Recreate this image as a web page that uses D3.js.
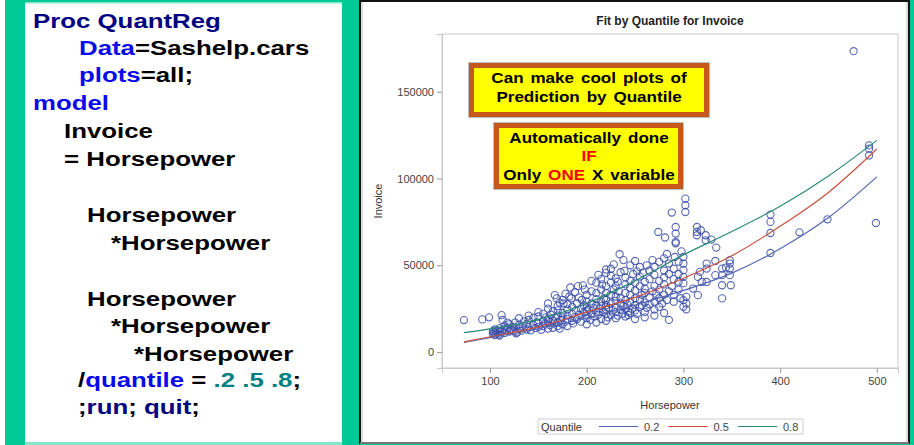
<!DOCTYPE html>
<html><head><meta charset="utf-8">
<script src="https://cdn.jsdelivr.net/npm/d3@7"></script>
<style>html,body{margin:0;padding:0;background:#fff;overflow:hidden}svg{display:block}</style>
</head><body><div id="chart"></div>
<script>
// ---------------- DATA ----------------
const chartTitle = "Fit by Quantile for Invoice";
const xLabel = "Horsepower";
const yLabel = "Invoice";
const xTicks = [100, 200, 300, 400, 500];
const yTicks = [0, 50000, 100000, 150000];
const quantileLabels = ["0.2", "0.5", "0.8"];

// fitted quantile curves
const curveHp = [73, 100, 150, 200, 250, 300, 350, 400, 450, 500];
const q20 = [5500, 8300, 13500, 19500, 27000, 35500, 45500, 59500, 77500, 101000];
const q50 = [5900, 8800, 14500, 23000, 31500, 42500, 55500, 72500, 92000, 117000];
const q80 = [11200, 13400, 18800, 28000, 41000, 56000, 69500, 84000, 101500, 122000];

// scatter points [horsepower, invoice]
const carPoints = [
 [73,18400],[92,18800],[99,20000],[112,21300],[113,18500],[118,17000],
 [103,10500],[103,12000],[104,11200],[105,9800],[105,13000],[107,10800],[108,12500],[110,11500],[110,13800],[110,9500],
 [112,12000],[115,11000],[115,13500],[115,15000],[117,12500],[119,14000],[120,11800],[120,16000],[122,13200],[125,12000],
 [125,14500],[126,17000],[127,10800],[130,13500],[130,15800],[130,19500],[132,12300],[134,14800],[135,17500],[138,13000],
 [138,16200],[140,14200],[140,18500],[140,21000],[106,11800],[109,10200],[121,12700],[128,11400],
 [142,12500],[145,15500],[145,19800],[147,13800],[148,17000],[150,14500],[150,16500],[150,20500],[150,23000],[153,12800],
 [155,15000],[155,18000],[155,22000],[157,16500],[158,20000],[160,13500],[160,17500],[160,19000],[160,25000],[162,15500],
 [163,21500],[165,14000],[165,18000],[165,23500],[166,16500],[167,32800],[168,19500],[169,30900],[170,15000],[170,17000],
 [170,21000],[170,24000],[170,26500],[172,13500],[173,18500],[175,16000],[175,20000],[175,22500],[175,30000],[176,28000],
 [178,17500],[180,15000],[180,19000],[180,21000],[180,24500],[180,27500],[182,32000],[183,37200],[184,31000],
 [185,18000],[185,22000],[185,26000],[186,16500],[188,20000],[189,24000],[190,19000],[190,28000],[191,38000],[192,21500],
 [194,17500],[194,25000],[195,30000],[196,38400],[197,22500],[197,27000],[200,16000],[200,19500],[200,21000],[200,23500],
 [200,26000],[200,29000],[200,33000],[202,24500],[204,18500],[205,22000],[205,28000],[205,35000],[207,25500],[208,20500],
 [210,17000],[210,23000],[210,27000],[210,30500],[210,34000],[210,40000],[212,21500],[213,25000],[215,19000],[215,26500],
 [215,29000],[215,36000],[215,42000],[217,23000],[218,31000],[220,18000],[220,22000],[220,24500],[220,27000],[220,30000],
 [220,34000],[220,38000],[220,45600],[220,47600],[222,20000],[223,25500],[225,21500],[225,28000],[225,33000],[225,40000],
 [225,44000],[227,24000],[228,36000],[230,19500],[230,23000],[230,26000],[230,29500],[230,32000],[230,38000],[230,42500],
 [232,21000],[233,35000],[234,56400],[235,24500],[235,28000],[235,31000],[235,46000],[237,22000],[238,26500],[239,46800],
 [240,20500],[240,25000],[240,30000],[240,34000],[240,39000],[240,43000],[242,27500],[243,21300],[243,23200],[245,22500],
 [245,29000],[245,33000],[245,37000],[245,41000],[247,25000],[248,45000],[250,19000],[250,24000],[250,27000],[250,31000],
 [250,35500],[250,40000],[252,22000],[255,26000],[255,30000],[255,38000],[255,43500],[257,27000],[257,33000],[258,45600],
 [260,20000],[260,23000],[260,28500],[260,34000],[260,40500],[260,36500],[262,25500],[265,27500],[265,31500],[265,42000],
 [265,47000],[268,35000],[270,21000],[270,24500],[270,29000],[270,38000],[270,44500],[270,49000],[272,33500],[274,69200],
 [275,26000],[275,31000],[275,36000],[275,41000],[275,52000],[278,28000],[280,22500],[280,33000],[280,39000],[280,43000],
 [280,47000],[280,54000],[281,66000],[283,30000],[285,18500],[285,35000],[285,45000],[285,51000],[288,80400],[288,38000],
 [290,29000],[290,33000],[290,42000],[290,48000],[291,54800],[292,72100],[292,68300],[292,63500],[292,62700],[295,36000],
 [295,40500],[295,45000],[295,52000],[297,31000],[298,58000],
 [205,41000],[212,44500],[225,48000],[228,50500],[245,50000],[250,52500],[262,50000],[238,53000],[255,49000],[198,36000],
 [188,34500],[178,33500],[216,39000],[232,40500],[268,53000],[283,56500],[252,46500],[192,31500],[172,28500],[160,28000],
 [300,54800],[300,51000],[300,47200],[300,43300],[300,39700],[300,29900],[300,26100],[302,88400],[302,84600],[302,80700],
 [303,31800],[303,28000],[303,24600],[310,36600],[314,72100],[314,69200],[314,67300],[318,70200],[323,67300],[323,64400],
 [329,64800],[334,60200],[333,52500],[348,52900],[348,51000],[348,48100],[344,48700],[340,48100],[340,44300],[348,44300],
 [333,44300],[324,51000],[324,48100],[317,46200],[315,43300],[319,40400],[324,40400],[315,32800],[340,38500],[349,38500],
 [340,30900],
 [390,79200],[390,75000],[390,68600],[390,57100],[420,69000],[449,76500],[476,173400],[492,119100],[492,117200],[492,113300],
 [499,74400]
];

// ---------------- DRAW ----------------
const W = 914, H = 445;
const svg = d3.select("#chart").append("svg").attr("width", W).attr("height", H);
const FONT = "'Liberation Sans', Arial, Helvetica, sans-serif";

// backgrounds
svg.append("rect").attr("x",0).attr("y",0).attr("width",W).attr("height",H).attr("fill","#00C896");
svg.append("rect").attr("x",0).attr("y",0).attr("width",5).attr("height",H).attr("fill","#fff");
svg.append("rect").attr("x",25).attr("y",3).attr("width",317).attr("height",440).attr("fill","#fff");
svg.append("rect").attr("x",25).attr("y",442).attr("width",317).attr("height",3).attr("fill","#86E6CA");
svg.append("rect").attr("x",25).attr("y",2).attr("width",317).attr("height",1.5).attr("fill","#86E6CA");

// right panel
svg.append("rect").attr("x",360).attr("y",1).attr("width",549).attr("height",442)
  .attr("fill","#fff").attr("stroke","#111").attr("stroke-width",2);
svg.append("line").attr("x1",360).attr("x2",909).attr("y1",443).attr("y2",443).attr("stroke","#777").attr("stroke-width",2);
svg.append("line").attr("x1",907).attr("x2",907).attr("y1",2).attr("y2",442).attr("stroke","#bbb").attr("stroke-width",1);
svg.append("line").attr("x1",362).attr("x2",362).attr("y1",2).attr("y2",442).attr("stroke","#bbb").attr("stroke-width",1);

// ---- code panel ----
const NAVY = "#000080", BLUE = "#0a0ae8", TEAL = "#008080", BLACK = "#000";
const codeLines = [
  {x:33, y:28, parts:[["Proc QuantReg",NAVY]]},
  {x:79, y:55, parts:[["Data",BLUE],["=Sashelp.cars",BLACK]]},
  {x:79, y:82, parts:[["plots",BLUE],["=all;",BLACK]]},
  {x:33, y:110, parts:[["model",BLUE]]},
  {x:64, y:138, parts:[["Invoice",BLACK]]},
  {x:64, y:166, parts:[["= Horsepower",BLACK]]},
  {x:87, y:222, parts:[["Horsepower",BLACK]]},
  {x:111, y:250, parts:[["*Horsepower",BLACK]]},
  {x:87, y:306, parts:[["Horsepower",BLACK]]},
  {x:111, y:333, parts:[["*Horsepower",BLACK]]},
  {x:134, y:361, parts:[["*Horsepower",BLACK]]},
  {x:78, y:387, parts:[["/",BLACK],["quantile",BLUE],[" = ",BLACK],[".2 .5 .8",TEAL],[";",BLACK]]},
  {x:78, y:414, parts:[[";",BLACK],["run",NAVY],["; ",BLACK],["quit",NAVY],[";",BLACK]]}
];
codeLines.forEach(l => {
  const t = svg.append("text").attr("transform",`translate(${l.x},${l.y}) scale(1.26,1)`)
    .attr("font-family",FONT).attr("font-weight","bold").attr("font-size",20.5)
    .attr("xml:space","preserve").style("white-space","pre");
  l.parts.forEach(p => t.append("tspan").attr("fill",p[1]).text(p[0]));
});

// ---- chart ----
const plot = {left:442, right:898, top:34, bottom:368};
const x = d3.scaleLinear().domain([50.36, 521.9]).range([plot.left, plot.right]);
const y = d3.scaleLinear().domain([-9200, 183300]).range([plot.bottom, plot.top]);

// title
svg.append("text").attr("x",(plot.left+plot.right)/2).attr("y",25).attr("text-anchor","middle")
  .attr("font-family",FONT).attr("font-weight","bold").attr("font-size",12).attr("fill","#222").text(chartTitle);

// frame
svg.append("rect").attr("x",plot.left).attr("y",plot.top).attr("width",plot.right-plot.left).attr("height",plot.bottom-plot.top)
  .attr("fill","none").attr("stroke","#c9c9c9").attr("stroke-width",1);

// axes
const xAxis = d3.axisBottom(x).tickValues(xTicks).tickSize(5).tickPadding(4).tickFormat(d3.format("d"));
const yAxis = d3.axisLeft(y).tickValues(yTicks).tickSize(5).tickPadding(3).tickFormat(d3.format("d"));
const gx = svg.append("g").attr("transform",`translate(0,${plot.bottom})`).call(xAxis);
const gy = svg.append("g").attr("transform",`translate(${plot.left},0)`).call(yAxis);
[gx, gy].forEach(g => {
  g.select(".domain").attr("stroke","#c9c9c9");
  g.selectAll(".tick line").attr("stroke","#999");
  g.selectAll(".tick text").attr("font-family",FONT).attr("font-size",11).attr("fill","#444");
});

svg.append("text").attr("x",(plot.left+plot.right)/2).attr("y",409).attr("text-anchor","middle")
  .attr("font-family",FONT).attr("font-size",11).attr("fill","#333").text(xLabel);
svg.append("text").attr("transform",`translate(382,${(plot.top+plot.bottom)/2}) rotate(-90)`).attr("text-anchor","middle")
  .attr("font-family",FONT).attr("font-size",11).attr("fill","#333").text(yLabel);

// points
const ptColor = "#3a4ea8";
svg.append("g").selectAll("circle").data(carPoints).join("circle")
  .attr("cx",d=>x(d[0])).attr("cy",d=>y(d[1])).attr("r",3.6)
  .attr("fill","none").attr("stroke",ptColor).attr("stroke-width",1.1).attr("stroke-opacity",0.85);

// curves
const curveColors = ["#5566b4","#c9503f","#2a8c72"];
const series = [q20, q50, q80];
const line = d3.line().x(d=>x(d[0])).y(d=>y(d[1])).curve(d3.curveMonotoneX);
series.forEach((s,i) => {
  svg.append("path").datum(curveHp.map((h,j)=>[h,s[j]])).attr("d",line)
    .attr("fill","none").attr("stroke",curveColors[i]).attr("stroke-width",1.2);
});

// legend
const lg = svg.append("g");
lg.append("rect").attr("x",538).attr("y",419).attr("width",265).attr("height",15)
  .attr("fill","#fff").attr("stroke","#cfcfcf");
lg.append("text").attr("x",541).attr("y",430.5).attr("font-family",FONT).attr("font-size",11).attr("fill","#333").text("Quantile");
const legX = [599, 668.5, 738];
quantileLabels.forEach((q,i) => {
  lg.append("line").attr("x1",legX[i]).attr("x2",legX[i]+39).attr("y1",426.5).attr("y2",426.5)
    .attr("stroke",curveColors[i]).attr("stroke-width",1.2);
  lg.append("text").attr("x",legX[i]+45).attr("y",430.5).attr("font-family",FONT).attr("font-size",11).attr("fill","#444").text(q);
});

// annotation boxes
function box(x0,y0,w,h){
  svg.append("rect").attr("x",x0).attr("y",y0).attr("width",w).attr("height",h).attr("fill","#bfbfbf");
  svg.append("rect").attr("x",x0+1).attr("y",y0+1).attr("width",w-2).attr("height",h-2).attr("fill","#C5581C");
  svg.append("rect").attr("x",x0+6).attr("y",y0+6).attr("width",w-12).attr("height",h-12).attr("fill","#FFFF00");
}
box(468,62,242,56);
box(493,122,191,68);
function note(cx,by,parts){
  const t = svg.append("text").attr("transform",`translate(${cx},${by}) scale(1.1,1)`).attr("text-anchor","middle")
    .attr("font-family",FONT).attr("font-weight","bold").attr("font-size",15.5).attr("word-spacing",2)
    .attr("xml:space","preserve").style("white-space","pre");
  parts.forEach(p => t.append("tspan").attr("fill",p[1]).text(p[0]));
}
note(589,83,[["Can make cool plots of","#000"]]);
note(589,101.5,[["Prediction by Quantile","#000"]]);
note(589,143,[["Automatically done","#000"]]);
note(589,161,[["IF","#ff0000"]]);
note(589,180,[["Only ","#000"],["ONE","#ff0000"],[" X variable","#000"]]);
</script></body></html>
